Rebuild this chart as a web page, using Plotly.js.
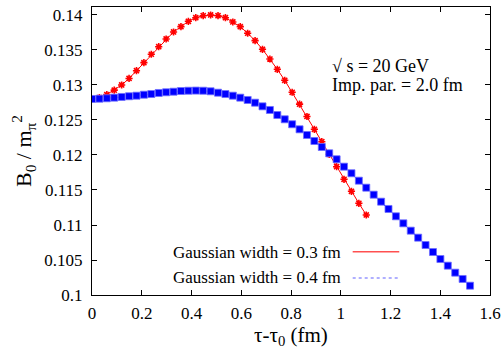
<!DOCTYPE html>
<html>
<head>
<meta charset="utf-8">
<script src="https://cdn.plot.ly/plotly-3.0.1.min.js"></script>
<style>html,body{margin:0;padding:0;background:#fff;}#chart{width:504px;height:348px;}</style>
</head>
<body>
<div id="chart"></div>
<script>
// ---- data ----
const redX = [0,0.0298,0.0596,0.0894,0.1192,0.149,0.1788,0.2086,0.2384,0.2682,0.298,0.3278,0.3576,0.3874,0.4172,0.447,0.4768,0.5066,0.5364,0.5662,0.596,0.6258,0.6556,0.6854,0.7152,0.745,0.7748,0.8046,0.8344,0.8642,0.894,0.9238,0.9536,0.9834,1.0132,1.043,1.0728,1.1026];
const redY = [0.1280,0.1282,0.12864,0.12926,0.1300,0.13093,0.13204,0.13319,0.13439,0.13547,0.13657,0.13757,0.13833,0.1391,0.13961,0.1399,0.1400,0.1399,0.13961,0.1390,0.13833,0.13739,0.13633,0.1351,0.13371,0.13224,0.13067,0.12896,0.12726,0.1255,0.12367,0.1219,0.1201,0.11833,0.11653,0.11481,0.1131,0.11143];
const blueX = [0,0.0298,0.0596,0.0894,0.1192,0.149,0.1788,0.2086,0.2384,0.2682,0.298,0.3278,0.3576,0.3874,0.4172,0.447,0.4768,0.5066,0.5364,0.5662,0.596,0.6258,0.6556,0.6854,0.7152,0.745,0.7748,0.8046,0.8344,0.8642,0.894,0.9238,0.9536,0.9834,1.0132,1.043,1.0728,1.1026,1.1324,1.1622,1.192,1.2218,1.2516,1.2814,1.3112,1.341,1.3708,1.4006,1.4304,1.4602,1.49,1.5198];
const blueY = [0.12800,0.12804,0.12810,0.12819,0.12829,0.12839,0.12847,0.12861,0.12871,0.12886,0.12896,0.12904,0.12914,0.12918,0.12920,0.12918,0.12910,0.12890,0.12871,0.12847,0.12819,0.12786,0.12747,0.12695,0.12643,0.12571,0.12510,0.12439,0.12367,0.12286,0.12200,0.12114,0.12024,0.11939,0.11833,0.11739,0.11633,0.11533,0.11433,0.11333,0.11229,0.11124,0.11024,0.10919,0.10819,0.10714,0.10614,0.10514,0.10419,0.10319,0.10229,0.10133];
const seriesNames = ["Gaussian width = 0.3 fm", "Gaussian width = 0.4 fm"];
const xTickVals = [0,0.2,0.4,0.6,0.8,1,1.2,1.4,1.6];
const xTickText = ["0","0.2","0.4","0.6","0.8","1","1.2","1.4","1.6"];
const yTickVals = [0.1,0.105,0.11,0.115,0.12,0.125,0.13,0.135,0.14];
const yTickText = ["0.1","0.105","0.11","0.115","0.12","0.125","0.13","0.135","0.14"];
const annoLines = ["√ s = 20 GeV", "Imp. par. = 2.0 fm"];
const xTitle = "τ-τ<sub>0</sub> (fm)";
const yTitle = "B<sub>0</sub> / m<sub>π</sub><sup>2</sup>";

const FONT = "Liberation Serif, Times New Roman, serif";

const traces = [
  {x: redX, y: redY, name: seriesNames[0], mode: "lines+markers", type: "scatter",
   line: {color: "#ff0000", width: 1},
   marker: {symbol: "asterisk-open", size: 6, color: "#ff0000", line: {color: "#ff0000", width: 1.6}}},
  {x: blueX, y: blueY, name: seriesNames[1], mode: "lines+markers", type: "scatter",
   line: {color: "#0000ff", width: 1, dash: "dot"},
   marker: {symbol: "square", size: 7, color: "#0000ff", line: {color: "rgba(110,110,255,0.8)", width: 1}}}
];

const axisCommon = {
  showgrid: false, zeroline: false, showline: true, linecolor: "#000", linewidth: 1,
  mirror: "ticks", ticks: "inside", ticklen: 5, tickwidth: 1, tickcolor: "#000",
  tickfont: {family: FONT, size: 17, color: "#000"}
};

const layout = {
  width: 504, height: 348,
  margin: {l: 92, r: 14, t: 7, b: 53},
  paper_bgcolor: "#fff", plot_bgcolor: "#fff",
  showlegend: false,
  font: {family: FONT, color: "#000"},
  xaxis: Object.assign({}, axisCommon, {
    range: [0, 1.6], tickmode: "array", tickvals: xTickVals, ticktext: xTickText,
    ticklabelstandoff: 3
  }),
  yaxis: Object.assign({}, axisCommon, {
    range: [0.1, 0.14114], tickmode: "array", tickvals: yTickVals, ticktext: yTickText,
    ticklabelstandoff: 5,
    title: {text: yTitle, font: {family: FONT, size: 22, color: "#000"}, standoff: 6}
  }),
  annotations: [
    {xref: "paper", yref: "paper", x: 0.5, y: -0.144, xanchor: "center", yanchor: "middle", showarrow: false,
     borderpad: 0, text: xTitle, font: {family: FONT, size: 21, color: "#000"}},
    {xref: "paper", yref: "paper", x: 0.598, y: 0.795, xanchor: "left", yanchor: "middle", showarrow: false,
     text: annoLines[0], font: {family: FONT, size: 18, color: "#000"}},
    {xref: "paper", yref: "paper", x: 0.598, y: 0.729, xanchor: "left", yanchor: "middle", showarrow: false,
     text: annoLines[1], font: {family: FONT, size: 18, color: "#000"}},
    {xref: "paper", yref: "paper", x: 0.63, y: 0.1476, xanchor: "right", yanchor: "middle", showarrow: false,
     text: seriesNames[0], font: {family: FONT, size: 17, color: "#000"}},
    {xref: "paper", yref: "paper", x: 0.63, y: 0.0608, xanchor: "right", yanchor: "middle", showarrow: false,
     text: seriesNames[1], font: {family: FONT, size: 17, color: "#000"}}
  ],
  shapes: [
    {type: "line", xref: "paper", yref: "paper", x0: 0.655, x1: 0.772, y0: 0.1503, y1: 0.1503,
     line: {color: "#ff5050", width: 1.5}},
    {type: "line", xref: "paper", yref: "paper", x0: 0.655, x1: 0.772, y0: 0.059, y1: 0.059,
     line: {color: "#6060ff", width: 1.2, dash: "dot"}}
  ]
};

Plotly.newPlot("chart", traces, layout, {staticPlot: true, displayModeBar: false});
</script>
</body>
</html>
